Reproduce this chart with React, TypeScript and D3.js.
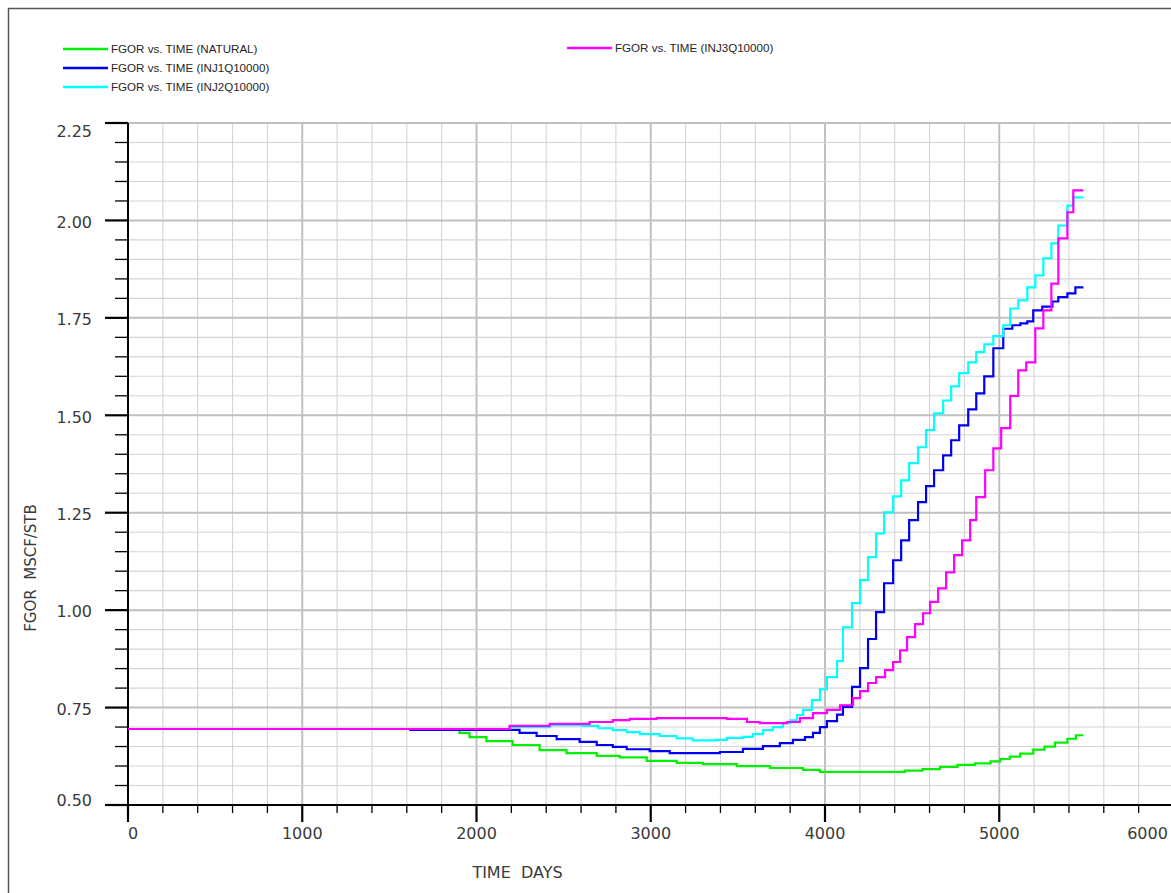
import React from 'react';
import * as d3 from 'd3';

type Pt = [number, number];

// FGOR vs TIME (NATURAL)
const natural: Pt[] = [
  [0, 0.695], [1902, 0.685], [1960, 0.674], [2057, 0.664], [2207, 0.654], [2362, 0.641],
  [2517, 0.633], [2690, 0.626], [2822, 0.622], [2977, 0.613], [3149, 0.608], [3299, 0.605],
  [3494, 0.600], [3684, 0.595], [3874, 0.590], [3971, 0.585], [4460, 0.588], [4560, 0.592],
  [4660, 0.598], [4760, 0.603], [4860, 0.607], [4950, 0.612], [5006, 0.618], [5060, 0.624],
  [5120, 0.632], [5195, 0.642], [5260, 0.650], [5320, 0.660], [5391, 0.670], [5440, 0.679],
  [5483, 0.679],
];

// FGOR vs TIME (INJ1Q10000)
const inj1: Pt[] = [
  [0, 0.695], [1620, 0.693], [2247, 0.685], [2345, 0.677], [2460, 0.669], [2592, 0.662], [2690, 0.654],
  [2782, 0.649], [2862, 0.643], [2994, 0.638], [3109, 0.633], [3397, 0.636], [3529, 0.644],
  [3644, 0.651], [3741, 0.659], [3816, 0.667], [3885, 0.674], [3931, 0.685], [3971, 0.700],
  [4011, 0.715], [4069, 0.732], [4103, 0.752], [4155, 0.803], [4201, 0.851], [4247, 0.926],
  [4293, 0.995], [4339, 1.069], [4391, 1.128], [4437, 1.179], [4483, 1.231], [4534, 1.277],
  [4580, 1.318], [4626, 1.359], [4678, 1.397], [4724, 1.436], [4770, 1.474], [4822, 1.515],
  [4868, 1.556], [4914, 1.600], [4966, 1.672], [5023, 1.722], [5075, 1.731], [5121, 1.736],
  [5161, 1.741], [5195, 1.769], [5247, 1.779], [5305, 1.792], [5339, 1.803], [5391, 1.813],
  [5437, 1.828], [5483, 1.828],
];

// FGOR vs TIME (INJ2Q10000)
const inj2: Pt[] = [
  [0, 0.695], [2190, 0.700], [2420, 0.705], [2609, 0.703], [2700, 0.697], [2782, 0.692],
  [2862, 0.687], [2937, 0.682], [3052, 0.677], [3149, 0.671], [3241, 0.666], [3379, 0.667],
  [3437, 0.672], [3529, 0.675], [3586, 0.682], [3644, 0.692], [3701, 0.700], [3759, 0.710],
  [3799, 0.717], [3839, 0.731], [3874, 0.744], [3925, 0.769], [3971, 0.797], [4011, 0.828],
  [4069, 0.869], [4103, 0.956], [4155, 1.018], [4201, 1.077], [4247, 1.136], [4293, 1.197],
  [4339, 1.251], [4391, 1.292], [4437, 1.333], [4483, 1.377], [4534, 1.418], [4580, 1.462],
  [4626, 1.505], [4678, 1.538], [4724, 1.574], [4770, 1.608], [4822, 1.636], [4868, 1.662],
  [4914, 1.682], [4966, 1.703], [5023, 1.731], [5063, 1.774], [5109, 1.795], [5161, 1.828],
  [5207, 1.859], [5253, 1.903], [5299, 1.941], [5339, 1.987], [5391, 2.038], [5425, 2.059],
  [5483, 2.059],
];

// FGOR vs TIME (INJ3Q10000)
const inj3: Pt[] = [
  [0, 0.695], [2190, 0.703], [2420, 0.708], [2649, 0.713], [2782, 0.718], [2879, 0.721],
  [3034, 0.723], [3437, 0.721], [3552, 0.713], [3626, 0.710], [3782, 0.713], [3856, 0.723],
  [3931, 0.736], [4011, 0.744], [4086, 0.756], [4161, 0.774], [4201, 0.792], [4247, 0.813],
  [4293, 0.828], [4345, 0.846], [4391, 0.867], [4431, 0.897], [4471, 0.931], [4517, 0.964],
  [4563, 0.992], [4603, 1.021], [4649, 1.056], [4695, 1.097], [4741, 1.141], [4787, 1.179],
  [4833, 1.231], [4868, 1.290], [4919, 1.359], [4966, 1.415], [5011, 1.467], [5063, 1.550],
  [5109, 1.615], [5155, 1.636], [5207, 1.723], [5253, 1.769], [5299, 1.838], [5339, 1.954],
  [5391, 2.021], [5425, 2.077], [5483, 2.077],
];

const seriesNames = [
  'FGOR vs. TIME (NATURAL)',
  'FGOR vs. TIME (INJ1Q10000)',
  'FGOR vs. TIME (INJ2Q10000)',
  'FGOR vs. TIME (INJ3Q10000)',
];
const seriesColors = ['#00f000', '#0000f0', '#00ffff', '#ff00ff'];
const seriesData = [natural, inj1, inj2, inj3];

const timeTickLabels = ['0', '1000', '2000', '3000', '4000', '5000', '6000'];
const fgorTickLabels = ['0.50', '0.75', '1.00', '1.25', '1.50', '1.75', '2.00', '2.25'];

const xTitle = 'TIME  DAYS';
const yTitle = 'FGOR  MSCF/STB';

const W = 1171;
const H = 893;

export default function App() {
  const x = d3.scaleLinear().domain([0, 6000]).range([128, 1173.5]);
  const y = d3.scaleLinear().domain([0.5, 2.25]).range([805, 123]);
  const line = d3
    .line<Pt>()
    .x((d) => x(d[0]))
    .y((d) => y(d[1]))
    .curve(d3.curveStepAfter);

  const xMinor = d3.range(0, 6001, 200);
  const yMinor = d3.range(0, 36).map((i) => 0.5 + i * 0.05);

  const tickFont = "'DejaVu Sans', sans-serif";
  const legendFont = "'Liberation Sans', Arial, sans-serif";

  const legendPos = [
    { x1: 63, y: 49 },
    { x1: 63, y: 68 },
    { x1: 63, y: 87 },
    { x1: 567, y: 48 },
  ];

  return (
    <svg
      width={W}
      height={H}
      style={{ position: 'absolute', left: 0, top: 0, display: 'block', background: '#fff' }}
    >
      <rect x={0} y={0} width={W} height={H} fill="#fff" />
      {/* frame */}
      <line x1={8.5} y1={8.5} x2={8.5} y2={H} stroke="#555" strokeWidth={1.5} />
      <line x1={8} y1={8.5} x2={W} y2={8.5} stroke="#555" strokeWidth={1.5} />

      {/* grid */}
      {xMinor.slice(1).map((d) => {
        const major = d % 1000 === 0;
        return (
          <line
            key={'gx' + d}
            x1={x(d)}
            x2={x(d)}
            y1={y(2.25)}
            y2={y(0.5)}
            stroke={major ? '#c0c0c0' : '#d4d4d4'}
            strokeWidth={major ? 2 : 1.1}
          />
        );
      })}
      {yMinor.slice(1).map((v, i) => {
        const major = (i + 1) % 5 === 0;
        return (
          <line
            key={'gy' + i}
            x1={x(0)}
            x2={W}
            y1={y(v)}
            y2={y(v)}
            stroke={major ? '#c0c0c0' : '#d4d4d4'}
            strokeWidth={major ? 2 : 1.1}
          />
        );
      })}

      {/* axes */}
      <line x1={x(0)} x2={x(0)} y1={y(2.25)} y2={y(0.5) + 1} stroke="#000" strokeWidth={2} />
      <line x1={x(0)} x2={W} y1={y(0.5)} y2={y(0.5)} stroke="#000" strokeWidth={2} />
      {yMinor.map((v, i) => {
        const major = i % 5 === 0;
        return (
          <line
            key={'ty' + i}
            x1={major ? 105 : 115}
            x2={x(0)}
            y1={y(v)}
            y2={y(v)}
            stroke="#000"
            strokeWidth={major ? 2.2 : 1.3}
          />
        );
      })}
      {xMinor.map((d) => {
        const major = d % 1000 === 0;
        return (
          <line
            key={'tx' + d}
            x1={x(d)}
            x2={x(d)}
            y1={y(0.5)}
            y2={y(0.5) + (major ? 17 : 8)}
            stroke="#000"
            strokeWidth={major ? 2.2 : 1.3}
          />
        );
      })}

      {/* tick labels */}
      {fgorTickLabels.map((t) => {
        const cy = Math.max(131, Math.min(800, y(+t) + 1.5));
        return (
          <text
            key={'ly' + t}
            x={92}
            y={cy + 5.8}
            textAnchor="end"
            fontFamily={tickFont}
            fontSize={16}
            fill="#3a3a3a"
          >
            {t}
          </text>
        );
      })}
      {timeTickLabels.map((t) => {
        const cx = Math.min(x(+t), 1147.5);
        return (
          <text
            key={'lx' + t}
            x={t === '0' ? cx + 5 : cx}
            y={839}
            textAnchor="middle"
            fontFamily={tickFont}
            fontSize={16}
            fill="#3a3a3a"
          >
            {t}
          </text>
        );
      })}

      {/* axis titles */}
      <text
        x={517.5}
        y={878}
        textAnchor="middle"
        fontFamily={tickFont}
        fontSize={16}
        fill="#3a3a3a"
        style={{ whiteSpace: 'pre' }}
      >
        {xTitle}
      </text>
      <text
        transform="translate(36,568) rotate(-90)"
        textAnchor="middle"
        fontFamily={tickFont}
        fontSize={15}
        fill="#3a3a3a"
        style={{ whiteSpace: 'pre' }}
      >
        {yTitle}
      </text>

      {/* series */}
      {seriesData.map((data, i) => (
        <path
          key={'s' + i}
          d={line(data) || ''}
          fill="none"
          stroke={seriesColors[i]}
          strokeWidth={2.2}
          strokeLinejoin="miter"
          strokeLinecap="butt"
        />
      ))}

      {/* legend */}
      {seriesNames.map((name, i) => {
        const p = legendPos[i];
        return (
          <g key={'lg' + i}>
            <line x1={p.x1} x2={p.x1 + 45} y1={p.y} y2={p.y} stroke={seriesColors[i]} strokeWidth={2.5} />
            <text
              x={p.x1 + 48}
              y={p.y + 4}
              fontFamily={legendFont}
              fontSize={11.6}
              fill="#262626"
            >
              {name}
            </text>
          </g>
        );
      })}
    </svg>
  );
}
